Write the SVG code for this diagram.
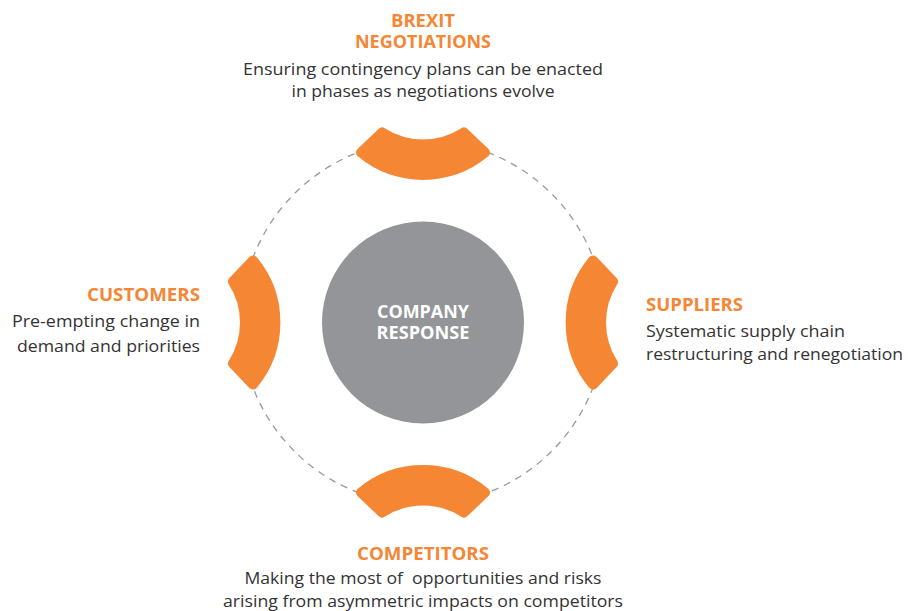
<svg xmlns="http://www.w3.org/2000/svg" width="908" height="611" viewBox="0 0 908 611">
<style>
.seg{fill:#F58634;stroke:#F58634;stroke-width:10;stroke-linejoin:round}
.h{font-family:"Open Sans","Liberation Sans",sans-serif;font-weight:bold;font-size:17.5px;fill:#F58634}
.d{font-family:"Open Sans","Liberation Sans",sans-serif;font-size:17px;fill:#333333}
.c{font-family:"Open Sans","Liberation Sans",sans-serif;font-weight:bold;font-size:17px;fill:#ffffff}
</style>
<defs>
<path id="segshape" d="M-41,-190 A76,76 0 0 0 41,-190 L62,-170 A97,97 0 0 1 -62,-170 Z"/>
</defs>
<g id="connectors">
<circle cx="423" cy="322.5" r="182" fill="none" stroke="#9a9a9a" stroke-width="1.3" stroke-dasharray="7 6"/>
</g>
<g id="center">
<circle cx="423" cy="322.5" r="101" fill="#939598"/>
<text class="c" x="423" y="317.5" text-anchor="middle" textLength="92" lengthAdjust="spacingAndGlyphs">COMPANY</text>
<text class="c" x="423" y="338.5" text-anchor="middle" textLength="93" lengthAdjust="spacingAndGlyphs">RESPONSE</text>
</g>
<g id="brexit">
<use href="#segshape" class="seg" transform="translate(423,322.5)"/>
<text class="h" x="423" y="26.5" text-anchor="middle" textLength="64" lengthAdjust="spacingAndGlyphs">BREXIT</text>
<text class="h" x="423" y="47.5" text-anchor="middle" textLength="136" lengthAdjust="spacingAndGlyphs">NEGOTIATIONS</text>
<text class="d" x="423" y="75" text-anchor="middle" textLength="360" lengthAdjust="spacingAndGlyphs">Ensuring contingency plans can be enacted</text>
<text class="d" x="423" y="96.5" text-anchor="middle" textLength="263" lengthAdjust="spacingAndGlyphs">in phases as negotiations evolve</text>
</g>
<g id="suppliers">
<use href="#segshape" class="seg" transform="translate(423,322.5) rotate(90)"/>
<text class="h" x="646" y="311" textLength="97" lengthAdjust="spacingAndGlyphs">SUPPLIERS</text>
<text class="d" x="646" y="336.5" textLength="199" lengthAdjust="spacingAndGlyphs">Systematic supply chain</text>
<text class="d" x="646" y="360" textLength="257" lengthAdjust="spacingAndGlyphs">restructuring and renegotiation</text>
</g>
<g id="competitors">
<use href="#segshape" class="seg" transform="translate(423,322.5) rotate(180)"/>
<text class="h" x="423" y="560" text-anchor="middle" textLength="132" lengthAdjust="spacingAndGlyphs">COMPETITORS</text>
<text class="d" x="423" y="584.3" text-anchor="middle" xml:space="preserve" textLength="357" lengthAdjust="spacingAndGlyphs">Making the most of  opportunities and risks</text>
<text class="d" x="423" y="606.7" text-anchor="middle" textLength="400" lengthAdjust="spacingAndGlyphs">arising from asymmetric impacts on competitors</text>
</g>
<g id="customers">
<use href="#segshape" class="seg" transform="translate(423,322.5) rotate(270)"/>
<text class="h" x="200" y="300.7" text-anchor="end" textLength="113" lengthAdjust="spacingAndGlyphs">CUSTOMERS</text>
<text class="d" x="200" y="326.7" text-anchor="end" textLength="188" lengthAdjust="spacingAndGlyphs">Pre-empting change in</text>
<text class="d" x="200" y="351.5" text-anchor="end" textLength="183" lengthAdjust="spacingAndGlyphs">demand and priorities</text>
</g>
</svg>
